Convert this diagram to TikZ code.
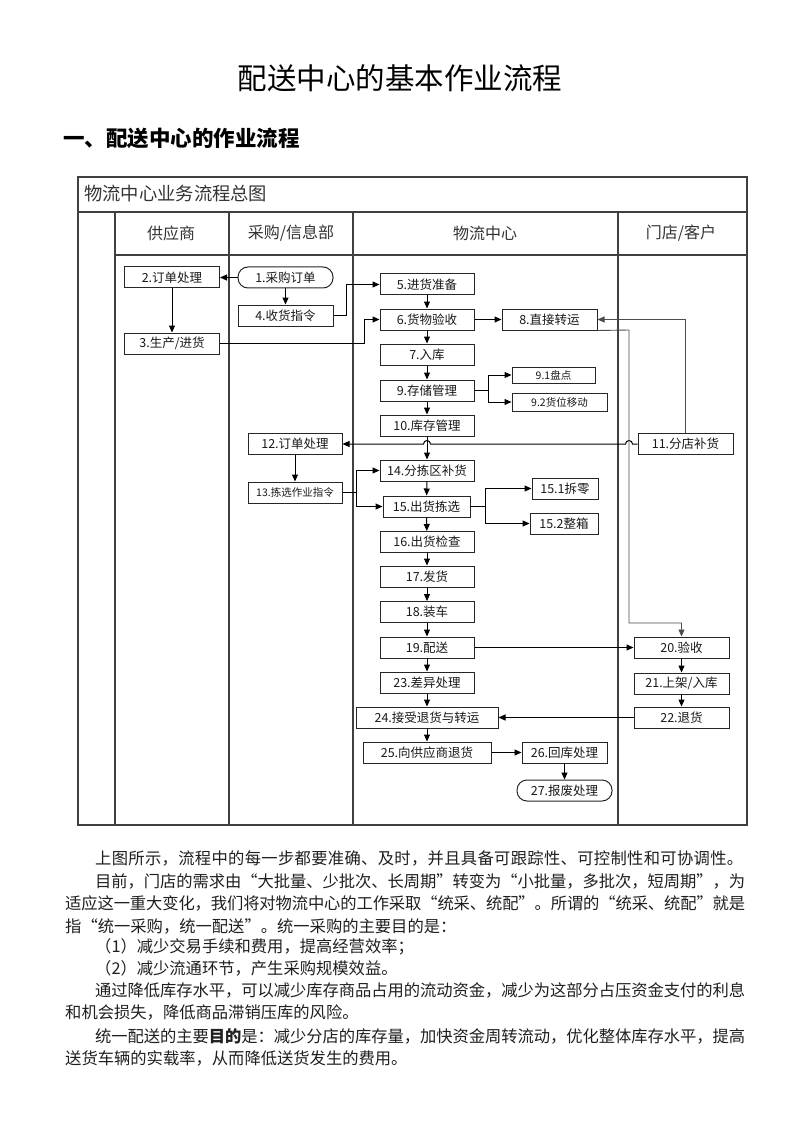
\documentclass[tikz,border=0pt]{standalone}
\usepackage{fontspec}
\newfontfamily\cjk{Noto Sans CJK SC}
\usetikzlibrary{arrows.meta,calc}
\def\jspread#1{\ifx#1\relax\else#1\hskip 0pt plus 1fil minus 0.3pt\expandafter\jspread\fi}
\newcommand\jline[2]{\makebox[#1][s]{\jspread#2\relax\unskip}}
\tikzset{
  bx/.style={draw=black!85, line width=1pt, minimum width=95pt, minimum height=21pt, inner sep=0pt,
             font=\cjk\fontsize{12.5}{12.5}\selectfont, text=black!90},
  rbx/.style={bx, rounded corners=10pt},
  arr/.style={draw=black, line width=1pt, -{Triangle[length=7pt,width=6pt]}},
  ln/.style={draw=black, line width=1pt},
  thinarr/.style={draw=black!70, line width=0.9pt, -{Triangle[length=7pt,width=6pt]}},
  lanefr/.style={draw=black!75, line width=1.4pt},
  hdr/.style={inner sep=0pt, font=\cjk\fontsize{16}{16}\selectfont, text=black!80},
  body/.style={anchor=west, inner sep=0pt, font=\cjk\fontsize{16.3}{16.3}\selectfont, text=black!88},
}
\begin{document}
\begin{tikzpicture}[x=1pt,y=-1pt]
\useasboundingbox[fill=white] (0,0) rectangle (800,1131);

% page headings
\node[inner sep=0pt, font=\cjk\fontsize{29.5}{29.5}\selectfont] (title) at (400,78) {配送中心的基本作业流程};
\node[inner sep=0pt, anchor=west, font=\cjk\bfseries\fontsize{21.5}{21.5}\selectfont] (sec) at (63,138) {一、配送中心的作业流程};

% swimlane frame
\draw[lanefr] (78,177) rectangle (747,825);
\draw[lanefr] (78,212) -- (747,212);
\draw[lanefr] (115,255) -- (747,255);
\foreach \x in {115,229,353,618} \draw[lanefr] (\x,212) -- (\x,825);
\node[anchor=west, inner sep=0pt, font=\cjk\fontsize{18.3}{18.3}\selectfont, text=black!80] (ftitle) at (84,194) {物流中心业务流程总图};
\node[hdr] (h1) at (171,233) {供应商};
\node[hdr] (h2) at (291,233) {采购/信息部};
\node[hdr] (h3) at (485,233) {物流中心};
\node[hdr] (h4) at (681,233) {门店/客户};

% nodes
\node[rbx] (n1) at (285.5,277.5) {1.采购订单};
\node[bx] (n2) at (172,277.5) {2.订单处理};
\node[bx] (n3) at (172,343.5) {3.生产/进货};
\node[bx] (n4) at (285.5,315.5) {4.收货指令};
\node[bx, minimum width=94pt] (n5) at (427,284.5) {5.进货准备};
\node[bx, minimum width=94pt] (n6) at (427,319.5) {6.货物验收};
\node[bx, minimum width=94pt] (n7) at (427,354.5) {7.入库};
\node[bx] (n8) at (549.5,319.5) {8.直接转运};
\node[bx, minimum width=94pt] (n9) at (427,390.5) {9.存储管理};
\node[bx, minimum width=83pt, minimum height=16pt, font=\cjk\fontsize{10.5}{10.5}\selectfont] (n91) at (553.5,375) {9.1盘点};
\node[bx, minimum width=95pt, minimum height=18pt, font=\cjk\fontsize{10.5}{10.5}\selectfont] (n92) at (559.5,402) {9.2货位移动};
\node[bx, minimum width=94pt] (n10) at (427,425.5) {10.库存管理};
\node[bx] (n11) at (685.5,444) {11.分店补货};
\node[bx, minimum width=94pt] (n12) at (295,444) {12.订单处理};
\node[bx, minimum width=94pt, font=\cjk\fontsize{10.5}{10.5}\selectfont] (n13) at (295,492.5) {13.拣选作业指令};
\node[bx, minimum width=94pt] (n14) at (427,470.5) {14.分拣区补货};
\node[bx, minimum width=87pt] (n15) at (426.5,506.5) {15.出货拣选};
\node[bx, minimum width=66pt] (n151) at (565,488.5) {15.1拆零};
\node[bx, minimum width=68pt] (n152) at (564,523.5) {15.2整箱};
\node[bx, minimum width=94pt] (n16) at (427,542) {16.出货检查};
\node[bx, minimum width=94pt] (n17) at (427,576.5) {17.发货};
\node[bx, minimum width=94pt] (n18) at (427,612) {18.装车};
\node[bx, minimum width=94pt] (n19) at (427,647.5) {19.配送};
\node[bx, minimum width=94pt] (n23) at (427,682.5) {23.差异处理};
\node[bx, minimum width=142pt] (n24) at (427,717.5) {24.接受退货与转运};
\node[bx, minimum width=128pt] (n25) at (427,752.5) {25.向供应商退货};
\node[bx, minimum width=85pt] (n26) at (564.5,752.5) {26.回库处理};
\node[rbx] (n27) at (564.5,790.5) {27.报废处理};
\node[bx] (n20) at (681.5,647.5) {20.验收};
\node[bx] (n21) at (681.5,683.5) {21.上架/入库};
\node[bx] (n22) at (681.5,717.5) {22.退货};

% branch points
\coordinate (b9) at (488,390.5);
\coordinate (b13) at (356,492.5);
\coordinate (b15) at (485,506.5);
\coordinate (c8a) at (629,330);
\coordinate (c8b) at (629,623);

% connectors
\draw[arr] (n1.west) -- (n2.east);
\draw[arr] (n1.south) -- (n4.north);
\draw[arr] (n2.south) -- (n3.north);
\draw[arr] (n4.east) -| ([xshift=-33pt]n5.west) -- (n5.west);
\draw[arr] (n3.east) -| ([xshift=-15pt]n6.west) -- (n6.west);
\draw[arr] (n5) -- (n6);
\draw[arr] (n6) -- (n7);
\draw[arr] (n7) -- (n9);
\draw[arr] (n9) -- (n10);
\draw[arr] (n6.east) -- (n8.west);
\draw[ln] (n9.east) -- (b9);
\draw[arr] (b9) |- (n91.west);
\draw[arr] (b9) |- (n92.west);
\draw[arr] (n10) -- (n14);
\draw[thinarr] (n11.north) |- (n8.east);
\draw[arr] (n11.west) -- (632.5,444) arc[start angle=0, end angle=180, radius=3.5pt]
      -- (430.5,444) arc[start angle=0, end angle=180, radius=3.5pt] -- (n12.east);
\draw[arr] (n12) -- (n13);
\draw[ln] (n13.east) -- (b13);
\draw[arr] (b13) |- (n14.west);
\draw[arr] (b13) |- (n15.west);
\draw[arr] (n14) -- (n15);
\draw[ln] (n15.east) -- (b15);
\draw[arr] (b15) |- (n151.west);
\draw[arr] (b15) |- (n152.west);
\draw[arr] (n15) -- (n16);
\draw[arr] (n16) -- (n17);
\draw[arr] (n17) -- (n18);
\draw[arr] (n18) -- (n19);
\draw[arr] (n19) -- (n23);
\draw[arr] (n23) -- (n24);
\draw[arr] (n24) -- (n25);
\draw[arr] (n25.east) -- (n26.west);
\draw[arr] (n26) -- (n27);
\draw[thinarr] (n8.south east) -- (c8a) -- (c8b) -| (n20.north);
\draw[arr] (n19.east) -- (n20.west);
\draw[arr] (n20) -- (n21);
\draw[arr] (n21) -- (n22);
\draw[arr] (n22.west) -- (n24.east);

% body text
\node[body] (p1) at (95,858) {\jline{648pt}{上图所示，流程中的每一步都要准确、及时，并且具备可跟踪性、可控制性和可协调性。}};
\node[body] (p2) at (95,881) {\jline{650pt}{目前，门店的需求由“大批量、少批次、长周期”转变为“小批量，多批次，短周期”，为}};
\node[body] (p3) at (65,903.5) {\jline{680pt}{适应这一重大变化，我们将对物流中心的工作采取“统采、统配”。所谓的“统采、统配”就是}};
\node[body] (p4) at (65,926) {指“统一采购，统一配送”。统一采购的主要目的是：};
\node[body] (p5) at (95,946.5) {（1）减少交易手续和费用，提高经营效率；};
\node[body] (p6) at (95,968) {（2）减少流通环节，产生采购规模效益。};
\node[body] (p7) at (95,990) {\jline{650pt}{通过降低库存水平，可以减少库存商品占用的流动资金，减少为这部分占压资金支付的利息}};
\node[body] (p8) at (65,1012.5) {和机会损失，降低商品滞销压库的风险。};
\node[body] (p9) at (95,1036) {\jline{650pt}{统一配送的主要\bfseries 目的\mdseries 是：减少分店的库存量，加快资金周转流动，优化整体库存水平，提高}};
\node[body] (p10) at (65,1058) {送货车辆的实载率，从而降低送货发生的费用。};
\end{tikzpicture}
\end{document}
